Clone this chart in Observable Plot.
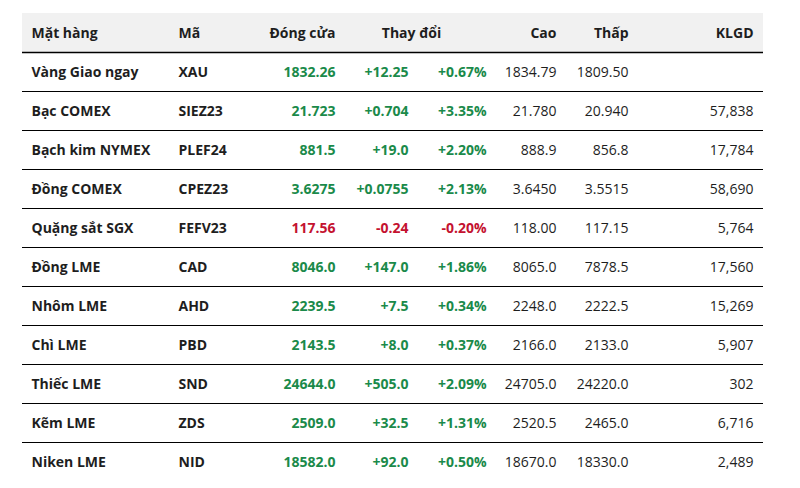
<!DOCTYPE html>
<html><head><meta charset="utf-8">
<script src="https://cdn.jsdelivr.net/npm/d3@7"></script>
<script src="https://cdn.jsdelivr.net/npm/@observablehq/plot@0.6"></script>
<style>
html,body{margin:0;padding:0;background:#fff;}
svg{font-family:"Open Sans",sans-serif;}
</style>
</head><body>
<div id="chart"></div>
<script>
// ---- data ----
const headers = ["Mặt hàng", "Mã", "Đóng cửa", "Thay đổi", "Cao", "Thấp", "KLGD"];
const names = ["Vàng Giao ngay", "Bạc COMEX", "Bạch kim NYMEX", "Đồng COMEX", "Quặng sắt SGX", "Đồng LME", "Nhôm LME", "Chì LME", "Thiếc LME", "Kẽm LME", "Niken LME"];
const codes = ["XAU", "SIEZ23", "PLEF24", "CPEZ23", "FEFV23", "CAD", "AHD", "PBD", "SND", "ZDS", "NID"];
const closes = ["1832.26", "21.723", "881.5", "3.6275", "117.56", "8046.0", "2239.5", "2143.5", "24644.0", "2509.0", "18582.0"];
const changes = ["+12.25", "+0.704", "+19.0", "+0.0755", "-0.24", "+147.0", "+7.5", "+8.0", "+505.0", "+32.5", "+92.0"];
const pcts = ["+0.67%", "+3.35%", "+2.20%", "+2.13%", "-0.20%", "+1.86%", "+0.34%", "+0.37%", "+2.09%", "+1.31%", "+0.50%"];
const highs = ["1834.79", "21.780", "888.9", "3.6450", "118.00", "8065.0", "2248.0", "2166.0", "24705.0", "2520.5", "18670.0"];
const lows = ["1809.50", "20.940", "856.8", "3.5515", "117.15", "7878.5", "2222.5", "2133.0", "24220.0", "2465.0", "18330.0"];
const volumes = ["", "57,838", "17,784", "58,690", "5,764", "17,560", "15,269", "5,907", "302", "6,716", "2,489"];

// ---- layout (column anchors in px) ----
const colX = {name: 31, code: 178, close: 335, change: 408, pct: 486, high: 556, low: 628, vol: 753};
const headerX = [31, 178, 335, 411, 556, 628, 753];
const headerAnchor = ["start", "start", "end", "middle", "end", "end", "end"];
const tableLeft = 22, tableRight = 763;

const GREEN = "#1a8a4a", RED = "#c41230", DARK = "#1e1e1e";

const rowKeys = ["header", ...names.map((_, i) => "r" + i)];
const rows = names.map((n, i) => ({
  key: "r" + i, name: n, code: codes[i], close: closes[i], change: changes[i],
  pct: pcts[i], high: highs[i], low: lows[i], vol: volumes[i],
  color: changes[i].startsWith("-") ? RED : GREEN
}));
const headerCells = headers.map((h, i) => ({key: "header", text: h, x: headerX[i], anchor: headerAnchor[i]}));

const boldCols = [
  {f: "name", anchor: "start", color: () => DARK},
  {f: "code", anchor: "start", color: () => DARK},
  {f: "close", anchor: "end", color: d => d.color},
  {f: "change", anchor: "end", color: d => d.color},
  {f: "pct", anchor: "end", color: d => d.color}
];
const regCols = [
  {f: "high", anchor: "end"},
  {f: "low", anchor: "end"},
  {f: "vol", anchor: "end"}
];

const marks = [
  Plot.rect([{key: "header"}], {x1: tableLeft, x2: tableRight, y: "key", fill: "#f1f1f1"}),
  Plot.ruleY(rowKeys.slice(0, rowKeys.length - 1), {
    y: d => d, x1: tableLeft, x2: tableRight, stroke: "#000",
    strokeWidth: d => d === "header" ? 1.6 : 1.2,
    dy: 19.5
  }),
  ...["start", "middle", "end"].map(a => Plot.text(headerCells.filter(c => c.anchor === a), {
    x: "x", y: "key", text: "text", textAnchor: a, fill: DARK, fontWeight: 700, fontSize: 14, dy: 0.5
  })),
  ...boldCols.map(c => Plot.text(rows, {
    x: () => colX[c.f], y: "key", text: d => d[c.f], textAnchor: c.anchor,
    fill: c.color, fontWeight: 700, fontSize: 14, dy: 0.5
  })),
  ...regCols.map(c => Plot.text(rows, {
    x: () => colX[c.f], y: "key", text: d => d[c.f], textAnchor: c.anchor,
    fill: DARK, fontWeight: 400, fontSize: 14, dy: 0.5
  }))
];

const chart = Plot.plot({
  width: 800, height: 488,
  margin: 0,
  x: {type: "linear", domain: [0, 800], range: [0, 800], axis: null},
  y: {type: "band", domain: rowKeys, range: [13, 481], padding: 0, axis: null},
  color: {type: "identity"},
  style: {fontFamily: "'Open Sans', sans-serif", background: "#fff"},
  marks
});
document.getElementById("chart").appendChild(chart);
</script>
</body></html>
